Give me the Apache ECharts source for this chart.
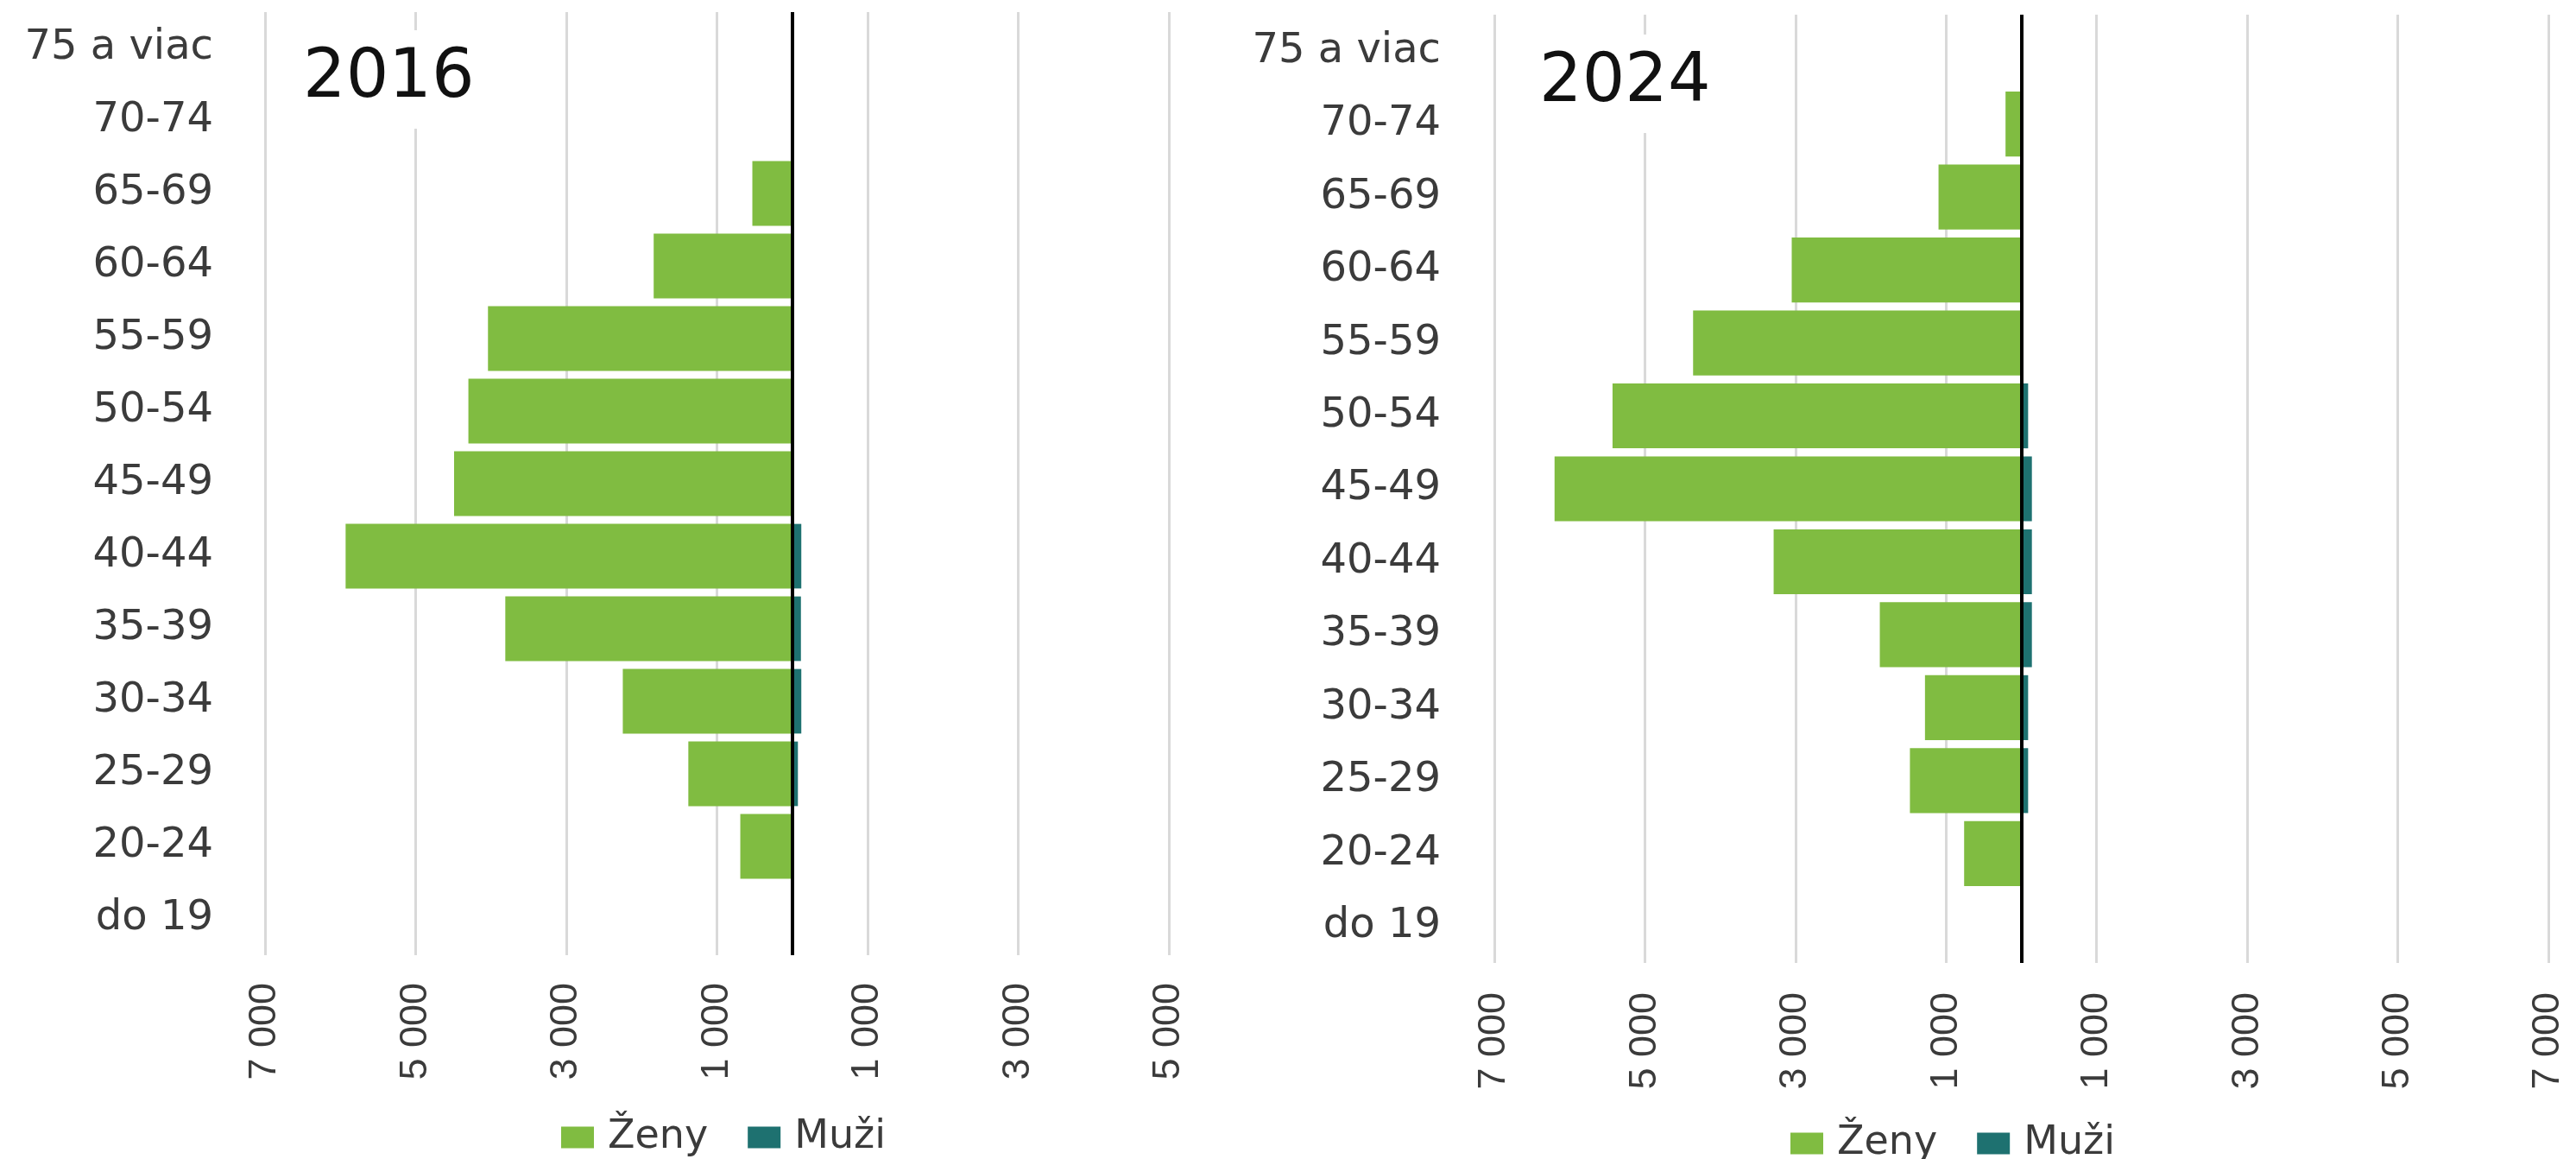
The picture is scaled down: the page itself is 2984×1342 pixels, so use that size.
<!DOCTYPE html>
<html><head><meta charset="utf-8">
<script src="https://cdn.jsdelivr.net/npm/echarts@6/dist/echarts.min.js"></script>
<style>html,body{margin:0;padding:0;background:#fff}#c{width:2984px;height:1342px}</style>
</head><body><div id="c"></div>
<script>
const ageGroups = ['do 19','20-24','25-29','30-34','35-39','40-44','45-49','50-54','55-59','60-64','65-69','70-74','75 a viac'];
const zeny2016 = [0, 690, 1380, 2250, 3810, 5930, 4490, 4300, 4040, 1840, 530, 0, 0];
const muzi2016 = [0, 0, 75, 120, 115, 120, 0, 0, 0, 0, 0, 0, 0];
const zeny2024 = [0, 760, 1480, 1280, 1880, 3290, 6200, 5430, 4360, 3050, 1100, 210, 0];
const muzi2024 = [0, 0, 90, 90, 140, 140, 140, 90, 0, 0, 0, 0, 0];
const gridTicks2016 = [-7000, -5000, -3000, -1000, 1000, 3000, 5000];
const gridTicks2024 = [-7000, -5000, -3000, -1000, 1000, 3000, 5000, 7000];
const seriesNames = ['Ženy', 'Muži'];
const panelTitles = ['2016', '2024'];

const GREEN = '#80bc41', TEAL = '#1e7170', TXT = '#3b3b3b';
const CAT_FONT = 'DejaVu Sans';
const fmt = v => String(Math.abs(v)).replace(/\B(?=(\d{3})+(?!\d))/g, ' ');

const chart = echarts.init(document.getElementById('c'), null, {renderer: 'canvas'});

function xAxisFor(idx, max, margin) {
  return {
    type: 'value', gridIndex: idx, min: -7000, max: max, interval: 1000,
    axisLine: {show: false}, axisTick: {show: false}, splitLine: {show: false},
    axisLabel: {
      rotate: 90, margin: margin, fontSize: 45, fontFamily: 'Liberation Sans', color: TXT,
      formatter: v => (Math.abs(v) % 2000 === 1000) ? fmt(v) : ''
    }
  };
}
function yAxisFor(idx, margin) {
  return {
    type: 'category', gridIndex: idx, data: ageGroups,
    axisLine: {show: false}, axisTick: {show: false}, splitLine: {show: false},
    axisLabel: {margin: margin, fontSize: 48, fontFamily: CAT_FONT, color: TXT}
  };
}
function seriesFor(idx, zeny, muzi, ticks) {
  return [
    {
      name: seriesNames[0], type: 'bar', xAxisIndex: idx, yAxisIndex: idx,
      data: zeny.map(v => -v), barGap: '-100%', barCategoryGap: '11%',
      itemStyle: {color: GREEN}, z: 2,
      markLine: {
        silent: true, symbol: ['none', 'none'], z: 1, animation: false,
        label: {show: false},
        lineStyle: {color: '#d9d9d9', width: 3, type: 'solid'},
        data: ticks.map(t => ({xAxis: t}))
      }
    },
    {
      name: seriesNames[1], type: 'bar', xAxisIndex: idx, yAxisIndex: idx,
      data: muzi, barGap: '-100%', barCategoryGap: '11%',
      itemStyle: {color: TEAL}, z: 2,
      markLine: {
        silent: true, symbol: ['none', 'none'], z: 5, animation: false,
        label: {show: false},
        lineStyle: {color: '#000', width: 4, type: 'solid'},
        data: [{xAxis: 0}]
      }
    }
  ];
}
const legendBase = {
  data: seriesNames, icon: 'rect', itemWidth: 38, itemHeight: 25, itemGap: 46,
  textStyle: {fontSize: 46, fontFamily: CAT_FONT, color: TXT, padding: [0, 0, 0, 11]}
};
const titleBase = {
  backgroundColor: '#ffffff', padding: [18, 25],
  textStyle: {fontSize: 78, fontFamily: CAT_FONT, fontWeight: 'normal', color: '#111', lineHeight: 78}
};

chart.setOption({
  animation: false,
  backgroundColor: '#ffffff',
  title: [
    Object.assign({}, titleBase, {text: panelTitles[0], left: 326, top: 35}),
    Object.assign({}, titleBase, {text: panelTitles[1], left: 1758, top: 40})
  ],
  legend: [
    Object.assign({}, legendBase, {left: 645, top: 1289}),
    Object.assign({}, legendBase, {left: 2069, top: 1296})
  ],
  grid: [
    {left: 307, top: 14, width: 1047, height: 1092},
    {left: 1731, top: 17, width: 1221, height: 1098}
  ],
  xAxis: [xAxisFor(0, 5000, 32), xAxisFor(1, 7000, 34)],
  yAxis: [yAxisFor(0, 60), yAxisFor(1, 62)],
  series: [].concat(
    seriesFor(0, zeny2016, muzi2016, gridTicks2016),
    seriesFor(1, zeny2024, muzi2024, gridTicks2024)
  )
});
</script>
</body></html>
